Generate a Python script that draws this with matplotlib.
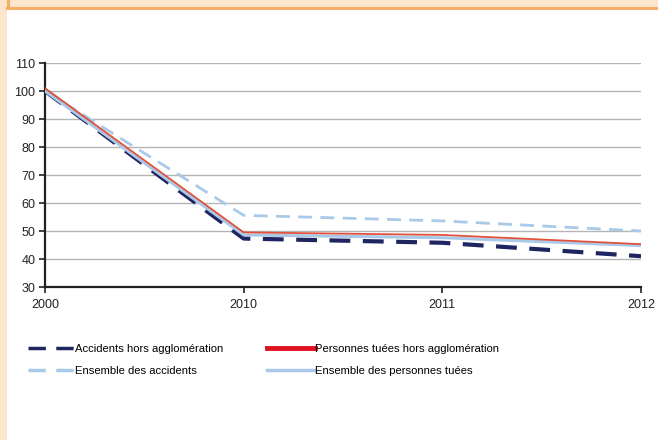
import matplotlib
matplotlib.use("Agg")
import matplotlib.pyplot as plt
from matplotlib.patches import Rectangle
from matplotlib.lines import Line2D

plt.rcParams['font.family'] = ['Liberation Sans', 'DejaVu Sans']

years = ["2000", "2010", "2011", "2012"]
acc_hors = [100, 47.3, 45.8, 41.0]
tues_hors = [101, 49.5, 48.6, 45.3]
ens_acc = [100, 55.6, 53.6, 50.0]
ens_tues = [100, 48.6, 47.6, 44.8]
labels = ["Accidents hors agglomération", "Personnes tuées hors agglomération",
          "Ensemble des accidents", "Ensemble des personnes tuées"]

W, H = 658, 440
fig = plt.figure(figsize=(W/100, H/100), dpi=100)

# decorative frame
fig.patches.append(Rectangle((0, 0), 7/W, 1, transform=fig.transFigure,
                             facecolor="#fde4cc", edgecolor="none", zorder=0))
fig.patches.append(Rectangle((0, 1-8/H), 1, 8/H, transform=fig.transFigure,
                             facecolor="#fde4cc", edgecolor="none", zorder=0))
fig.lines.append(Line2D([7/W, 1], [1-8/H, 1-8/H], transform=fig.transFigure,
                        color="#f4ae66", lw=2.2))
fig.lines.append(Line2D([8/W, 8/W], [1-8/H, 1], transform=fig.transFigure,
                        color="#f4ae66", lw=2.2))

ax = fig.add_axes([45/W, 1-287/H, (641-45)/W, (287-63)/H])
x = list(range(len(years)))

l1, = ax.plot(x, acc_hors, color="#1f2560", lw=3, dashes=(5, 3), zorder=3)
l3, = ax.plot(x, ens_acc, color="#a9c9e9", lw=2, dashes=(5, 3), zorder=2)
l4, = ax.plot(x, ens_tues, color="#a9c9e9", lw=2.2, zorder=3)
l2, = ax.plot(x, tues_hors, color="#e2513c", lw=1.3, zorder=4)

ax.set_xlim(0, 3)
ax.set_ylim(30, 110)
ax.set_yticks(range(30, 111, 10))
ax.set_xticks(x)
ax.set_xticklabels(years)
ax.grid(axis="y", color="#b5b5b5", lw=1)
ax.set_axisbelow(True)
for s in ["top", "right"]:
    ax.spines[s].set_visible(False)
for s in ["left", "bottom"]:
    ax.spines[s].set_color("#222222")
    ax.spines[s].set_linewidth(1.6)
ax.tick_params(axis="both", labelsize=9, colors="#222222", length=4, width=1.2)
ax.tick_params(axis="y", pad=3)
ax.tick_params(axis="x", pad=5)

h_acc = Line2D([], [], color="#1f2560", lw=2.5, dashes=(5, 3))
h_ens_acc = Line2D([], [], color="#a9c9e9", lw=2.5, dashes=(5, 3))
h_tues = Line2D([], [], color="#e0101e", lw=3.5)
h_ens_tues = Line2D([], [], color="#a9c9e9", lw=2.5)
fig.legend([h_acc, h_ens_acc, h_tues, h_ens_tues],
           [labels[0], labels[2], labels[1], labels[3]],
           ncol=2, loc="upper left", bbox_to_anchor=(19/W, 1-335/H),
           frameon=False, fontsize=8.1, handlelength=4.2, handletextpad=0.0,
           columnspacing=3.9, labelspacing=1.05, borderpad=0.3)

fig.savefig("out.png", dpi=100)
